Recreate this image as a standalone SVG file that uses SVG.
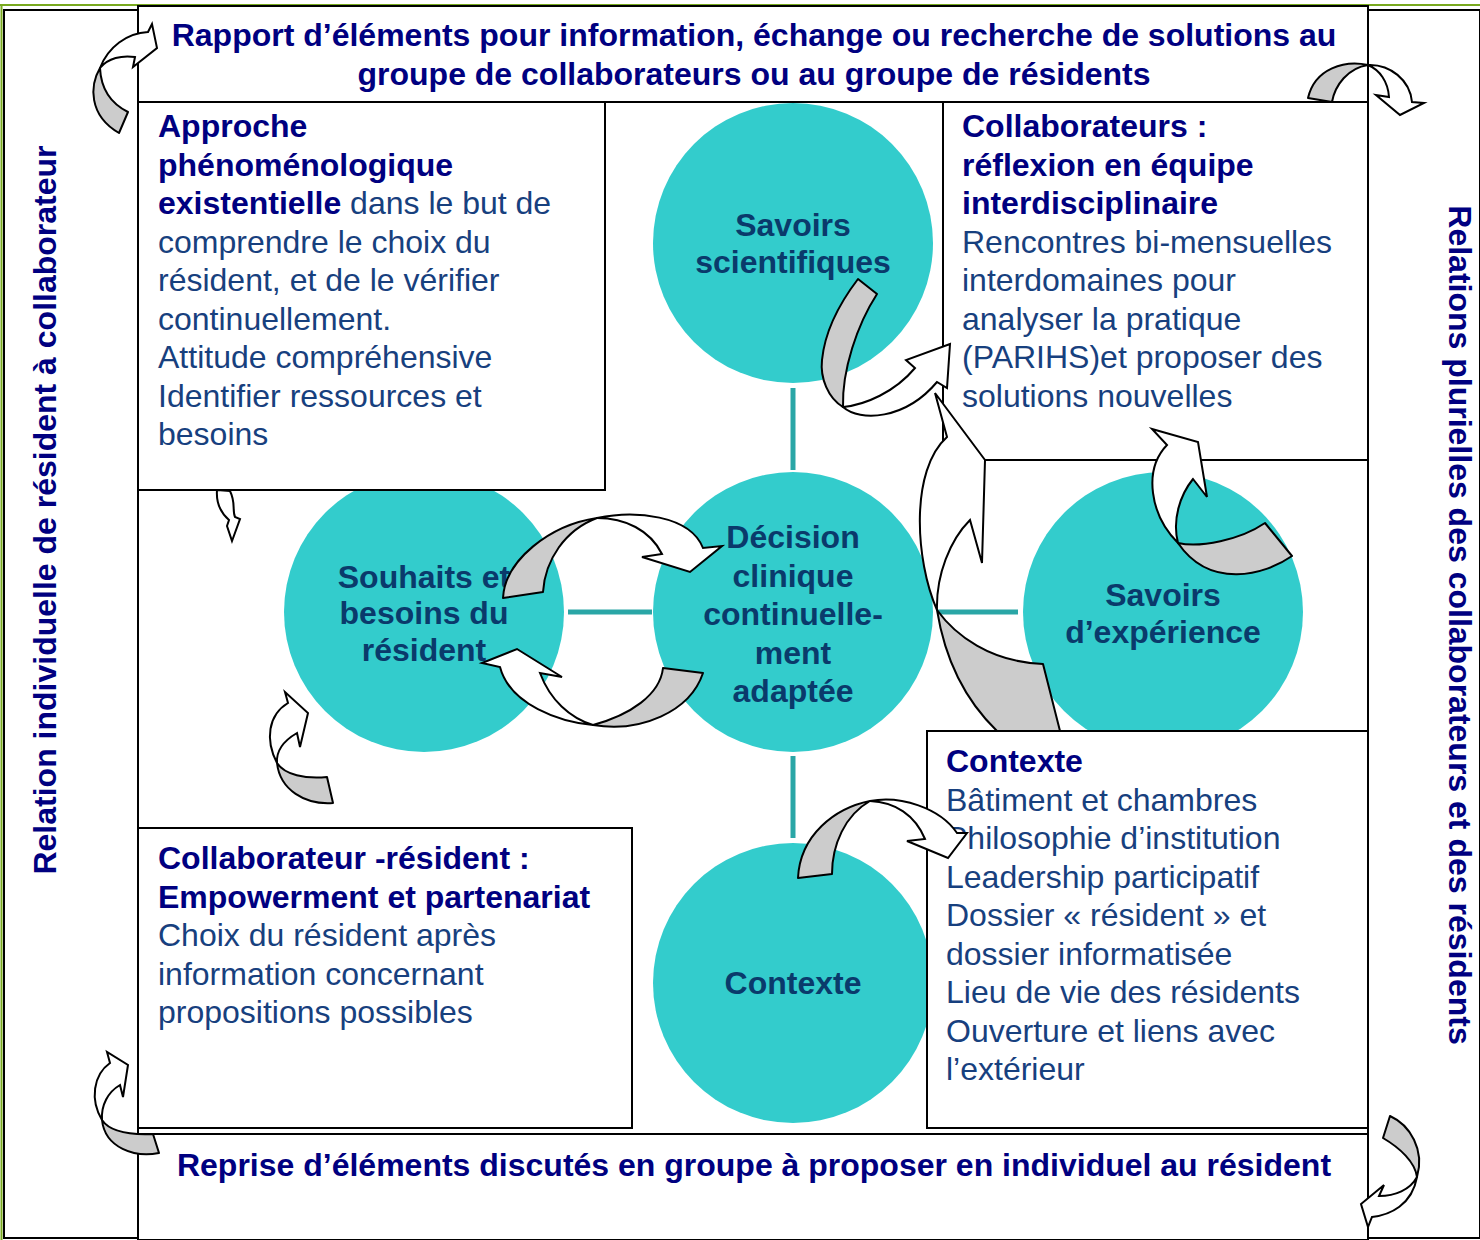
<svg xmlns="http://www.w3.org/2000/svg" width="1480" height="1240" viewBox="0 0 1480 1240">
<style>
.box{fill:#fff;stroke:#000;stroke-width:2}
.frame{fill:none;stroke:#000;stroke-width:2}
.circ{fill:#33CCCC}
.conn{stroke:#2AA6A6;stroke-width:5}
.g{fill:#CCCCCC;stroke:#000;stroke-width:2;stroke-linejoin:round}
.w{fill:#fff;stroke:#000;stroke-width:2;stroke-linejoin:miter}
text{font-family:"Liberation Sans",Arial,sans-serif;font-size:32px}
.hb{font-weight:bold;fill:#000080}
.reg{fill:#17407E}
.cl{font-weight:bold;fill:#0A3A6B;text-anchor:middle}
.ttl{font-weight:bold;fill:#000080;text-anchor:middle}
</style>
<rect width="1480" height="1240" fill="#fff"/>
<!-- green edge lines -->
<line x1="0" y1="5" x2="1480" y2="5" stroke="#78A91E" stroke-width="2"/>
<line x1="1.5" y1="5" x2="1.5" y2="1240" stroke="#78A91E" stroke-width="2"/>
<!-- side strips -->
<rect class="frame" x="4" y="10" width="134" height="1228"/>
<rect class="frame" x="1368" y="10" width="112" height="1228"/>

<!-- connectors -->
<g id="connectors">
<line class="conn" x1="793" y1="388" x2="793" y2="470"/>
<line class="conn" x1="568" y1="612" x2="652" y2="612"/>
<line class="conn" x1="938" y1="612" x2="1018" y2="612"/>
<line class="conn" x1="793" y1="756" x2="793" y2="838"/>
</g>

<!-- circles -->
<g id="n-savoirs-sci"><circle class="circ" cx="793" cy="243" r="140"/>
<text class="cl" x="793" y="236">Savoirs</text><text class="cl" x="793" y="273">scientifiques</text></g>
<g id="n-souhaits"><circle class="circ" cx="424" cy="612" r="140"/>
<text class="cl" x="424" y="588">Souhaits et</text><text class="cl" x="424" y="624">besoins du</text><text class="cl" x="424" y="661">résident</text></g>
<g id="n-decision"><circle class="circ" cx="793" cy="612" r="140"/>
<text class="cl" x="793" y="548">Décision</text><text class="cl" x="793" y="587">clinique</text><text class="cl" x="793" y="625">continuelle-</text><text class="cl" x="793" y="664">ment</text><text class="cl" x="793" y="702">adaptée</text></g>
<g id="n-savoirs-exp"><circle class="circ" cx="1163" cy="612" r="140"/>
<text class="cl" x="1163" y="606">Savoirs</text><text class="cl" x="1163" y="643">d’expérience</text></g>
<g id="n-contexte-c"><circle class="circ" cx="793" cy="983" r="140"/>
<text class="cl" x="793" y="994">Contexte</text></g>

<!-- boxes -->
<g id="n-top"><rect class="box" x="138" y="6" width="1230" height="96"/>
<text class="ttl" x="754" y="46">Rapport d’éléments pour information, échange ou recherche de solutions au</text>
<text class="ttl" x="754" y="85">groupe de collaborateurs ou au groupe de résidents</text></g>
<g id="n-bottom"><rect class="box" x="138" y="1134" width="1230" height="106"/>
<text class="ttl" x="754" y="1176">Reprise d’éléments discutés en groupe à proposer en individuel au résident</text></g>
<g id="n-left"><text class="ttl" transform="translate(56,510) rotate(-90)">Relation individuelle de résident à collaborateur</text></g>
<g id="n-right"><text class="ttl" transform="translate(1449,625) rotate(90)">Relations plurielles des collaborateurs et des résidents</text></g>

<g id="n-approche"><rect class="box" x="138" y="102" width="467" height="388"/>
<text x="158" y="137" class="hb">Approche</text>
<text x="158" y="175.5" class="hb">phénoménologique</text>
<text x="158" y="214"><tspan class="hb">existentielle</tspan><tspan class="reg"> dans le but de</tspan></text>
<text x="158" y="252.5" class="reg">comprendre le choix du</text>
<text x="158" y="291" class="reg">résident, et de le vérifier</text>
<text x="158" y="329.5" class="reg">continuellement.</text>
<text x="158" y="368" class="reg">Attitude compréhensive</text>
<text x="158" y="406.5" class="reg">Identifier ressources et</text>
<text x="158" y="445" class="reg">besoins</text></g>

<g id="n-collab"><rect class="box" x="943" y="102" width="425" height="358"/>
<text x="962" y="137" class="hb">Collaborateurs :</text>
<text x="962" y="175.5" class="hb">réflexion en équipe</text>
<text x="962" y="214" class="hb">interdisciplinaire</text>
<text x="962" y="252.5" class="reg">Rencontres bi-mensuelles</text>
<text x="962" y="291" class="reg">interdomaines pour</text>
<text x="962" y="329.5" class="reg">analyser la pratique</text>
<text x="962" y="368" class="reg">(PARIHS)et proposer des</text>
<text x="962" y="406.5" class="reg">solutions nouvelles</text></g>

<g id="n-contexte"><rect class="box" x="927" y="731" width="441" height="397"/>
<text x="946" y="772" class="hb">Contexte</text>
<text x="946" y="810.5" class="reg">Bâtiment et chambres</text>
<text x="946" y="849" class="reg">Philosophie d’institution</text>
<text x="946" y="887.5" class="reg">Leadership participatif</text>
<text x="946" y="926" class="reg">Dossier « résident » et</text>
<text x="946" y="964.5" class="reg">dossier informatisée</text>
<text x="946" y="1003" class="reg">Lieu de vie des résidents</text>
<text x="946" y="1041.5" class="reg">Ouverture et liens avec</text>
<text x="946" y="1080" class="reg">l’extérieur</text></g>

<g id="n-collab-res"><rect class="box" x="138" y="828" width="494" height="300"/>
<text x="158" y="869" class="hb">Collaborateur -résident :</text>
<text x="158" y="907.5" class="hb">Empowerment et partenariat</text>
<text x="158" y="946" class="reg">Choix du résident après</text>
<text x="158" y="984.5" class="reg">information concernant</text>
<text x="158" y="1023" class="reg">propositions possibles</text></g>

<!-- curved arrows -->
<g id="arrows">
<!-- A top-left -->
<path class="g" d="M100,68 C90,85 88,115 119,133 L128,112 C112,104 101,90 100,68 Z"/>
<path class="w" d="M100,68 C108,47 127,33 148,32 L152,24 L157,48 L133,67 L135,57 C122,55 108,58 100,68 Z"/>
<!-- B top-right -->
<path class="g" d="M1368,65 C1345,60 1315,68 1308,98 L1332,102 C1335,85 1348,68 1368,65 Z"/>
<path class="w" d="M1368,65 C1390,64 1410,80 1412,102 L1424,103 L1400,115 L1376,95 L1389,97 C1388,82 1380,70 1368,65 Z"/>
<!-- C upper loop -->
<path class="g" d="M597,518 C550,525 505,560 503,598 L543,592 C545,560 565,530 597,518 Z"/>
<path class="w" d="M597,518 C635,510 690,515 703,548 L722,546 L690,572 L642,557 L662,554 C650,530 625,518 597,518 Z"/>
<!-- D lower loop -->
<path class="g" d="M593,725 C640,733 690,712 703,673 L663,668 C660,695 630,715 593,725 Z"/>
<path class="w" d="M593,725 C560,722 510,705 500,667 L482,663 L517,649 L562,677 L540,673 C550,700 570,718 593,725 Z"/>
<!-- E savoirs scientifiques to collaborateurs -->
<path class="g" d="M858,279 L877,294 C857,325 842,370 843,407 C828,398 820,378 822,360 C825,330 842,300 858,279 Z"/>
<path class="w" d="M843,407 C860,422 905,420 937,382 L947,388 L950,344 L906,360 L915,368 C895,392 865,405 843,407 Z"/>
<!-- F big arrow -->
<path class="g" d="M937,610 C955,635 990,662 1043,664 L1060,731 L997,731 C965,700 945,660 937,610 Z"/>
<path class="w" d="M937,610 C915,560 910,470 947,437 L935,393 L985,460 L982,563 L970,520 C950,540 936,575 937,610 Z"/>
<!-- G savoirs d'experience loop -->
<path class="g" d="M1178,543 C1200,548 1240,540 1265,523 L1292,556 C1265,575 1210,590 1178,543 Z"/>
<path class="w" d="M1178,543 C1150,515 1143,470 1167,445 L1152,429 L1198,442 L1207,497 L1193,479 C1180,495 1172,520 1178,543 Z"/>
<!-- H contexte -->
<path class="g" d="M870,801 C835,808 800,835 798,878 L832,874 C832,845 845,815 870,801 Z"/>
<path class="w" d="M870,801 C900,795 940,808 957,833 L967,833 L948,858 L907,841 L925,839 C915,815 895,802 870,801 Z"/>
<!-- I small arrow under approche -->
<path class="w" d="M217,490 C216,503 221,513 229,520 L227,526 L232,541 L240,519 L235,517 C232,510 236,503 230,491 Z"/>
<!-- J souhaits lower-left -->
<path class="g" d="M277,763 C285,775 305,779 327,777 L333,803 C305,805 280,790 277,763 Z"/>
<path class="w" d="M277,763 C265,740 268,715 288,703 L285,692 L308,713 L300,747 L297,733 C285,740 276,750 277,763 Z"/>
<!-- K bottom-left -->
<path class="g" d="M102,1120 C110,1132 130,1135 153,1134 L159,1153 C135,1158 105,1148 102,1120 Z"/>
<path class="w" d="M102,1120 C90,1100 93,1075 110,1063 L107,1052 L128,1065 L123,1097 L120,1085 C108,1092 101,1105 102,1120 Z"/>
<!-- L bottom-right -->
<path class="g" d="M1417,1177 C1425,1150 1410,1125 1390,1116 L1383,1138 C1400,1148 1415,1162 1417,1177 Z"/>
<path class="w" d="M1417,1177 C1412,1205 1390,1215 1372,1217 L1368,1227 L1361,1204 L1384,1185 L1379,1196 C1395,1196 1410,1190 1417,1177 Z"/>
</g>
</svg>
